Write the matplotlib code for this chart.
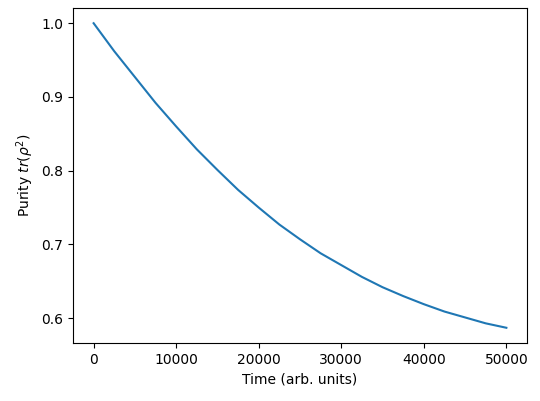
import matplotlib
matplotlib.use("Agg")
import matplotlib.pyplot as plt

time = [0, 2500, 5000, 7500, 10000, 12500, 15000, 17500, 20000, 22500, 25000,
        27500, 30000, 32500, 35000, 37500, 40000, 42500, 45000, 47500, 50000]
purity = [1.0, 0.962, 0.927, 0.892, 0.860, 0.829, 0.801, 0.774, 0.750, 0.727, 0.707,
          0.688, 0.672, 0.656, 0.642, 0.630, 0.619, 0.609, 0.601, 0.593, 0.587]

fig = plt.figure(figsize=(5.4, 4.01), dpi=100)
ax = fig.add_axes([73/540, 58/401, 454/540, 335/401])
ax.plot(time, purity, color="#1f77b4")
ax.set_xlabel("Time (arb. units)")
ax.set_ylabel(r"Purity $tr(\rho^2)$")
ax.set_yticks([0.6, 0.7, 0.8, 0.9, 1.0])
fig.savefig("out.png", dpi=100)
